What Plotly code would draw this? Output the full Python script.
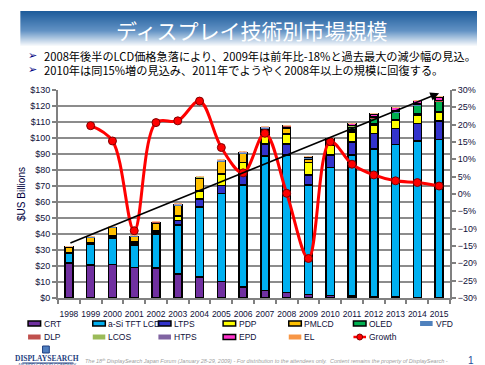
import plotly.graph_objects as go

# ---------------- data ----------------
years = list(range(1998, 2016))
year_labels = [str(y) for y in years]

crt   = [22.0, 20.5, 21.0, 19.0, 18.9, 15.1, 13.2, 10.2, 7.0, 4.8, 3.3, 2.2, 1.5, 1.3, 1.0, 0.6, 0.3, 0.2]
asi   = [6.0, 13.0, 16.6, 14.0, 20.7, 30.4, 43.8, 55.0, 63.5, 84.0, 86.0, 68.3, 80.0, 88.0, 92.0, 95.3, 97.7, 99.0]
ltps  = [0.3, 0.5, 0.8, 1.0, 1.0, 3.0, 4.8, 5.0, 7.5, 7.3, 6.8, 6.3, 8.0, 8.3, 9.8, 10.0, 11.0, 11.3]
pdp   = [0.2, 0.5, 0.7, 1.0, 1.3, 2.8, 5.0, 7.3, 6.7, 7.0, 6.3, 8.0, 6.0, 6.3, 5.2, 5.0, 5.3, 5.4]
pmlcd = [3.5, 3.5, 5.0, 3.5, 5.0, 6.6, 8.0, 7.7, 5.5, 2.5, 4.0, 2.0, 2.0, 1.2, 1.0, 0.8, 0.8, 0.8]
oled  = [0, 0, 0, 0, 0.1, 0.1, 0.2, 0.3, 0.3, 0.5, 0.6, 0.6, 1.0, 1.8, 3.2, 4.5, 5.4, 6.0]
vfd   = [0.3, 0.3, 0.3, 0.3, 0.3, 0.3, 0.3, 0.3, 0.3, 0.3, 0.2, 0.2, 0.2, 0.2, 0.2, 0.2, 0.2, 0.2]
dlp   = [0, 0, 0.1, 0.1, 0.2, 0.2, 0.3, 0.3, 0.3, 0.3, 0.3, 0.2, 0.3, 0.3, 0.3, 0.3, 0.3, 0.3]
lcos  = [0, 0, 0, 0, 0, 0, 0.1, 0.1, 0.1, 0.1, 0.1, 0.1, 0.1, 0.1, 0.1, 0.1, 0.1, 0.1]
htps  = [0.1, 0.2, 0.2, 0.2, 0.3, 0.3, 0.3, 0.2, 0.2, 0.2, 0.2, 0.2, 0.2, 0.2, 0.2, 0.2, 0.2, 0.2]
epd   = [0, 0, 0, 0, 0, 0, 0, 0, 0, 0, 0.1, 0.2, 0.4, 1.5, 2.0, 2.0, 2.0, 2.2]
el    = [0.1, 0.1, 0.1, 0.1, 0.1, 0.1, 0.1, 0.1, 0.1, 0.1, 0.1, 0.1, 0.1, 0.1, 0.1, 0.1, 0.1, 0.1]

growth = [None, 19.7, 15.3, -10.6, 20.6, 21.1, 26.8, 13.4, 6.1, 17.5, 0.2, -18.6, 15.1, 8.6, 5.5, 3.8, 3.3, 2.3]

trend_years = [1998, 2015]
trend_vals = [34, 128]

title_text = "ディスプレイ技術別市場規模"
bullets = [
    "2008年後半のLCD価格急落により、2009年は前年比-18%と過去最大の減少幅の見込。",
    "2010年は同15%増の見込み、2011年でようやく2008年以上の規模に回復する。",
]
footer_text = ("The 18<sup>th</sup> DisplaySearch Japan Forum (January 28-29, 2009) - For distribution to the "
               "attendees only.  Content remains the property of DisplaySearch -")

# name, values, color, outlined, pattern
series = [
    ("CRT", crt, "#7030A0", True, None),
    ("a-Si TFT LCD", asi, "#00B0F0", True, None),
    ("LTPS", ltps, "#3333CC", True, None),
    ("PDP", pdp, "#FFFF00", True, None),
    ("PMLCD", pmlcd, "#FFC000", True, None),
    ("OLED", oled, "#00B050", True, None),
    ("VFD", vfd, "#4F81BD", False, None),
    ("DLP", dlp, "#C0504D", False, None),
    ("LCOS", lcos, "#9BBB59", False, None),
    ("HTPS", htps, "#8064A2", False, ("x", "#B3A2C7")),
    ("EPD", epd, "#FF33CC", True, None),
    ("EL", el, "#F79646", False, (".", "#FAC090")),
]

# ---------------- figure ----------------
W, H = 485, 365
L, R, T, B = 42, 37, 82, 75
PW, PH = W - L - R, H - T - B


def px(x):
    return (x - L) / PW


def py(y):
    return (H - B - y) / PH


fig = go.Figure()
for name, vals, color, outlined, pattern in series:
    marker = dict(color=color,
                  line=dict(color="black", width=1.5 if outlined else 0))
    if pattern:
        marker["pattern"] = dict(shape=pattern[0], fgcolor=color, bgcolor=pattern[1], size=4)
    fig.add_trace(go.Bar(
        x=years, y=[v if v else None for v in vals], name=name, width=0.37,
        marker=marker, showlegend=False))

fig.add_trace(go.Scatter(
    x=years, y=growth, yaxis="y2", name="Growth", mode="lines+markers",
    line=dict(color="#FF0000", width=3, shape="spline", smoothing=1.0),
    marker=dict(size=8, color="#FF0000", line=dict(color="#800000", width=1)),
    showlegend=False))

fig.add_annotation(
    x=trend_years[1], y=trend_vals[1], ax=trend_years[0], ay=trend_vals[0],
    xref="x", yref="y", axref="x", ayref="y", text="", showarrow=True,
    arrowhead=2, arrowsize=1.1, arrowwidth=1.6, arrowcolor="black", standoff=0)

tick_font = dict(family="Liberation Sans, Arial", size=9, color="#10103a")
fig.update_layout(
    width=W, height=H,
    margin=dict(l=L, r=R, t=T, b=B, pad=0),
    paper_bgcolor="white", plot_bgcolor="white",
    barmode="stack", showlegend=False,
    font=dict(family="Liberation Sans, Arial", size=9, color="#10103a"),
    xaxis=dict(range=[1997.5, 2015.5], tickvals=years, ticktext=year_labels,
               ticks="", showgrid=False, zeroline=False, tickangle=0,
               showline=True, linecolor="#808080", linewidth=2,
               tickfont=dict(family="Liberation Sans, Arial", size=8.5, color="#10103a"),
               ticklabelstandoff=7,
               minor=dict(tick0=1997.5, dtick=1, ticks="outside", ticklen=4,
                          tickcolor="#808080", tickwidth=1.5, showgrid=False)),
    yaxis=dict(range=[0, 130], dtick=10, tickprefix="$", showgrid=True,
               gridcolor="#8c8c8c", gridwidth=2, zeroline=False,
               showline=True, linecolor="#808080", linewidth=2,
               ticks="outside", ticklen=4, tickcolor="#808080", tickwidth=1.5,
               tickfont=tick_font,
               title=dict(text="$US Billions", standoff=3,
                          font=dict(family="Liberation Sans, Arial", size=10, color="#000040"))),
    yaxis2=dict(range=[-30, 30], dtick=5, ticksuffix="%", overlaying="y", side="right",
                showgrid=False, zeroline=False, showline=True, linecolor="#808080",
                linewidth=2, ticks="outside", ticklen=4, tickcolor="#808080",
                tickwidth=1.5, tickfont=tick_font),
)

shapes = []
annotations = []

# title banner gradient
def lerp(c1, c2, t):
    return tuple(int(round(a + (b - a) * t)) for a, b in zip(c1, c2))

top_c, mid_c, bot_c = (30, 92, 155), (98, 146, 196), (255, 255, 255)
y0, y1 = 3, 39
n = y1 - y0
for i in range(n):
    t = i / (n - 1)
    c = lerp(top_c, mid_c, t / 0.55) if t < 0.55 else lerp(mid_c, bot_c, (t - 0.55) / 0.45)
    shapes.append(dict(type="rect", xref="paper", yref="paper", layer="below",
                       x0=px(3), x1=px(485), y0=py(y0 + i + 1.05), y1=py(y0 + i),
                       line=dict(width=0), fillcolor="rgb(%d,%d,%d)" % c))

annotations.append(dict(text=title_text, x=px(243), y=py(22), xref="paper", yref="paper",
                        showarrow=False, xanchor="center", yanchor="middle",
                        font=dict(family="Noto Sans CJK JP", size=21, color="white")))
for i, txt in enumerate(bullets):
    yy = 48 + 14 * i
    annotations.append(dict(text="➢", x=px(9), y=py(yy), xref="paper", yref="paper",
                            showarrow=False, xanchor="left", yanchor="middle",
                            font=dict(family="DejaVu Sans", size=11, color="#000080")))
    annotations.append(dict(text=txt, x=px(25), y=py(yy), xref="paper", yref="paper",
                            showarrow=False, xanchor="left", yanchor="middle",
                            font=dict(family="Noto Sans CJK JP", size=11.2, color="black")))

# manual legend
col_x = [11, 78, 146, 213, 281, 348, 417]
row_y = [315.5, 329]
positions = [(0, 0), (1, 0), (2, 0), (3, 0), (4, 0), (5, 0), (6, 0),
             (0, 1), (1, 1), (2, 1), (3, 1), (4, 1)]
leg_font = dict(family="Liberation Sans, Arial", size=8.5, color="#10103a")
for (name, vals, color, outlined, pattern), (c, r) in zip(series, positions):
    x0 = col_x[c]
    yy = row_y[r]
    shapes.append(dict(type="rect", xref="paper", yref="paper",
                       x0=px(x0), x1=px(x0 + 13), y0=py(yy + 2.5), y1=py(yy - 2.5),
                       fillcolor=color,
                       line=dict(color="black" if outlined else color, width=1.5 if outlined else 0)))
    annotations.append(dict(text=name, x=px(x0 + 14), y=py(yy), xref="paper", yref="paper",
                            showarrow=False, xanchor="left", yanchor="middle", font=leg_font))
# growth legend entry
gx = col_x[5]
gy = row_y[1]
shapes.append(dict(type="line", xref="paper", yref="paper", x0=px(gx), x1=px(gx + 13),
                   y0=py(gy), y1=py(gy), line=dict(color="#FF0000", width=2.5)))
shapes.append(dict(type="circle", xref="paper", yref="paper", x0=px(gx + 3.5), x1=px(gx + 9.5),
                   y0=py(gy + 3), y1=py(gy - 3), fillcolor="#FF0000",
                   line=dict(color="#800000", width=1)))
annotations.append(dict(text="Growth", x=px(gx + 14), y=py(gy), xref="paper", yref="paper",
                        showarrow=False, xanchor="left", yanchor="middle", font=leg_font))

# footer: logo, note, page number
shapes.append(dict(type="rect", xref="paper", yref="paper", x0=px(26), x1=px(33),
                   y0=py(345), y1=py(338), fillcolor="#4F7FC0", line=dict(color="#1F3F80", width=1)))
shapes.append(dict(type="line", xref="paper", yref="paper", x0=px(5), x1=px(58),
                   y0=py(355), y1=py(355), line=dict(color="#1F3F80", width=1)))
annotations.append(dict(text="<b>DISPLAYSEARCH</b>", x=px(31), y=py(350.5), xref="paper", yref="paper",
                        showarrow=False, xanchor="center", yanchor="middle",
                        font=dict(family="Liberation Serif", size=7.5, color="#1F3F80")))
annotations.append(dict(text="AN NPD GROUP COMPANY", x=px(31), y=py(357.5), xref="paper", yref="paper",
                        showarrow=False, xanchor="center", yanchor="middle",
                        font=dict(family="Liberation Sans", size=4.5, color="#1F3F80")))
annotations.append(dict(text="<i>" + footer_text + "</i>", x=px(258), y=py(353), xref="paper",
                        yref="paper", showarrow=False, xanchor="center", yanchor="middle",
                        font=dict(family="Liberation Sans", size=5.5, color="#A0A0A0")))
annotations.append(dict(text="1", x=px(470), y=py(352), xref="paper", yref="paper",
                        showarrow=False, xanchor="center", yanchor="middle",
                        font=dict(family="Liberation Sans", size=10, color="#1F4E9A")))

fig.update_layout(shapes=shapes, annotations=list(fig.layout.annotations) + annotations)

fig.write_html("out.html")
